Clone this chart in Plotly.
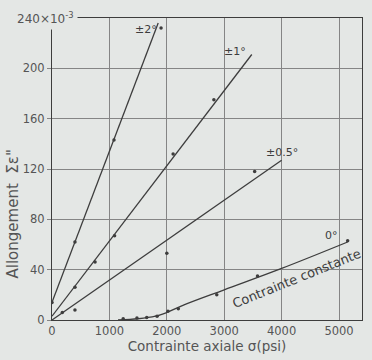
import plotly.graph_objects as go

# ---- data ----
x_ticks = [0, 1000, 2000, 3000, 4000, 5000]
y_ticks = [0, 40, 80, 120, 160, 200, 240]
y_ticktext = ["0", "40", "80", "120", "160", "200", ""]

# +-2 deg
pts2_x = [0, 400, 1080, 1900]
pts2_y = [14, 62, 143, 232]
fit2_x = [0, 1850]
fit2_y = [14, 236]

# +-1 deg
pts1_x = [400, 750, 1090, 2110, 2820]
pts1_y = [26, 46, 67, 132, 175]
fit1_x = [0, 3480]
fit1_y = [3, 211]

# +-0.5 deg
pts05_x = [180, 400, 2000, 3530]
pts05_y = [6, 8, 53, 118]
fit05_x = [0, 4000]
fit05_y = [0, 127]

# 0 deg (constant stress)
pts0_x = [1240, 1480, 1650, 1830, 2020, 2200, 2870, 3580, 5150]
pts0_y = [1, 1.5, 2, 3, 7, 9, 20, 35, 63]
fit0_x = [1150, 1500, 1800, 2000, 2300, 3000, 4000, 5150]
fit0_y = [0, 1, 3, 6, 12, 24, 41, 62]

curve_labels = ["±2°", "±1°", "±0.5°", "0°"]
label_x = [1640, 3180, 4010, 4870]
label_y = [231, 213, 133, 67]

INK = "#3d3d3d"
GRID = "#858585"
BG = "#e4e7e5"
FONT = "Liberation Sans"
FONT2 = "DejaVu Sans"

fig = go.Figure()
for fx, fy in [(fit2_x, fit2_y), (fit1_x, fit1_y), (fit05_x, fit05_y), (fit0_x, fit0_y)]:
    fig.add_trace(go.Scatter(x=fx, y=fy, mode="lines",
                             line=dict(color=INK, width=1.3, shape="spline"),
                             hoverinfo="skip", showlegend=False))
for px, py in [(pts2_x, pts2_y), (pts1_x, pts1_y), (pts05_x, pts05_y), (pts0_x, pts0_y)]:
    fig.add_trace(go.Scatter(x=px, y=py, mode="markers",
                             marker=dict(color=INK, size=3.5),
                             showlegend=False))

for t, lx, ly in zip(curve_labels, label_x, label_y):
    fig.add_annotation(x=lx, y=ly, text=t, showarrow=False,
                       font=dict(family=FONT2, size=11, color=INK))

fig.add_annotation(x=4260, y=33, text="Contrainte constante", showarrow=False,
                   textangle=-22, font=dict(family=FONT2, size=13, color=INK))

fig.add_annotation(x=0, y=240, xref="x", yref="y", text="240×10<sup>-3</sup>",
                   showarrow=False, xanchor="center", yanchor="middle", xshift=-7,
                   bgcolor=BG, borderpad=3,
                   font=dict(family=FONT2, size=12, color="#555"))

fig.add_annotation(xref="paper", yref="paper", x=-0.125, y=0.13, text="Allongement  Σε\"",
                   showarrow=False, textangle=-90, xanchor="center", yanchor="bottom",
                   font=dict(family=FONT2, size=15, color="#555"))

fig.update_layout(
    width=372, height=360,
    margin=dict(l=52, r=9, t=18, b=35),
    paper_bgcolor=BG, plot_bgcolor=BG,
    font=dict(family=FONT, size=12, color="#555"),
    xaxis=dict(range=[0, 5400], tickvals=x_ticks, showgrid=True, gridcolor=GRID,
               gridwidth=1, zeroline=False, showline=True, linecolor=INK, mirror=True,
               ticks="", tickfont=dict(family=FONT2, size=11.5, color="#555"),
               title=dict(text="Contrainte axiale σ(psi)", standoff=4,
                          font=dict(family=FONT2, size=13.5, color="#555"))),
    yaxis=dict(range=[0, 240], tickvals=y_ticks, ticktext=y_ticktext, showgrid=True,
               gridcolor=GRID, gridwidth=1, zeroline=False, showline=True,
               linecolor=INK, mirror=True, ticks="outside", ticklen=4,
               tickcolor=GRID, tickfont=dict(family=FONT2, size=11.5, color="#555")),
)

fig.write_html("out.html")
